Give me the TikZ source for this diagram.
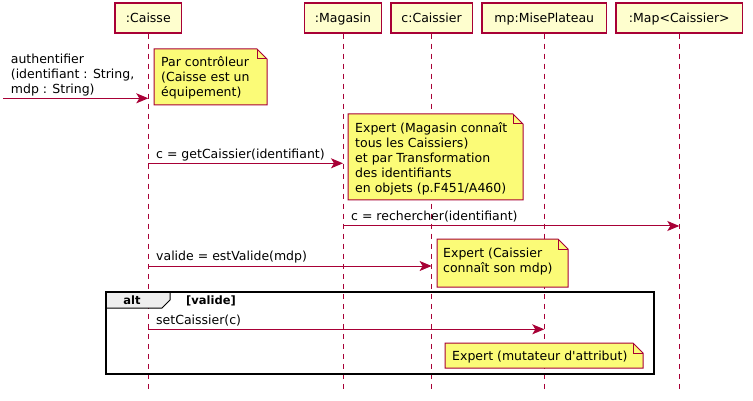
\documentclass[tikz,border=0pt]{standalone}
\usepackage{fontspec}
\setmainfont{DejaVu Sans}[Ligatures=TeXOff]
\usetikzlibrary{arrows.meta}
\definecolor{umlred}{HTML}{A80036}
\definecolor{partfill}{HTML}{FEFECE}
\definecolor{notefill}{HTML}{FBFB77}
\definecolor{hdrfill}{HTML}{EEEEEE}
\newcommand{\mlines}[1]{\begin{tabular}[t]{@{}l@{}}#1\end{tabular}}
\newcommand{\umlnote}[4]{%
  \filldraw[notebox] (#1,#2) -- (#3-10,#2) -- (#3,#2+10) -- (#3,#4) -- (#1,#4) -- cycle;
  \draw[notebox, fill=none] (#3-10,#2) -- (#3-10,#2+10) -- (#3,#2+10);}
\begin{document}
\begin{tikzpicture}[x=1pt,y=-1pt,
  every node/.style={font=\fontsize{12.5}{15}\selectfont, inner sep=0pt},
  part/.style={draw=umlred, line width=1.5pt, fill=partfill, minimum height=30pt,
    text height=10pt, text depth=1pt, inner sep=0pt},
  lifeline/.style={draw=umlred, line width=1pt, dash pattern=on 5pt off 5pt},
  msg/.style={draw=umlred, line width=1pt, -{Stealth[length=12pt,width=10pt,inset=3pt]}},
  msgtxt/.style={anchor=base west},
  notebox/.style={draw=umlred, line width=1pt, fill=notefill},
  notetxt/.style={anchor=base west},
  frame/.style={draw=black, line width=1.5pt},
  hdrtxt/.style={font=\fontsize{11.5}{13}\selectfont\bfseries},
]
\fill[white] (0,0) rectangle (753,401);
\useasboundingbox (0,0) rectangle (753,401);

% participants
\node[part, minimum width=66.7pt]  (caisse)   at (148.3,18) {:Caisse};
\node[part, minimum width=77.4pt]  (magasin)  at (343,18)   {:Magasin};
\node[part, minimum width=81.3pt]  (caissier) at (431.6,18) {c:Caissier};
\node[part, minimum width=124.7pt] (mise)     at (544.3,18) {mp:MisePlateau};
\node[part, minimum width=126.7pt] (map)      at (679.3,18) {:Map<Caissier>};

% lifelines
\foreach \p in {caisse,magasin,caissier,mise,map}{
  \draw[lifeline] (\p.south) -- (\p.south |- 0,390);
}

% alt frame
\fill[hdrfill] (106,292) -- (170,292) -- (170,300) -- (162,308) -- (106,308) -- cycle;
\draw[frame] (106,292) rectangle (654,374);
\draw[black, line width=1pt] (170,292) -- (170,300) -- (162,308) -- (106,308);
\node[hdrtxt, anchor=base] (altlbl) at (132,304.5) {alt};
\node[hdrtxt, anchor=base west] (guard) at (186,304.5) {[valide]};

% notes
\umlnote{154}{49}{267}{105}
\node[notetxt] (n1) at (161,66.7) {\mlines{Par contrôleur\\(Caisse est un\\équipement)}};
\umlnote{348}{114}{523}{200}
\node[notetxt] (n2) at (355,132.3) {\mlines{Expert (Magasin connaît\\tous les Caissiers)\\et par Transformation\\des identifiants\\en objets (p.F451/A460)}};
\umlnote{437}{239}{568}{287}
\node[notetxt] (n3) at (443,257.3) {\mlines{Expert (Caissier\\connaît son mdp)}};
\umlnote{445}{343}{643}{368}
\node[notetxt] (n4) at (452,360.5) {Expert (mutateur d'attribut)};

% messages
\coordinate (src) at (3,98.3);
\draw[msg] (src) -- (caisse |- src);
\node[msgtxt] (m1) at (10.7,63.3) {\mlines{authentifier\\(identifiant : String,\\mdp : String)}};

\draw[msg] (caisse |- 0,163.3) -- (magasin |- 0,163.3);
\node[msgtxt] (m2) at (156,158.3) {c = getCaissier(identifiant)};

\draw[msg] (magasin |- 0,226) -- (map |- 0,226);
\node[msgtxt] (m3) at (351,220.5) {c = rechercher(identifiant)};

\draw[msg] (caisse |- 0,266) -- (caissier |- 0,266);
\node[msgtxt] (m4) at (156,260.5) {valide = estValide(mdp)};

\draw[msg] (caisse |- 0,329.3) -- (mise |- 0,329.3);
\node[msgtxt] (m5) at (156,324) {setCaissier(c)};
\end{tikzpicture}
\end{document}
